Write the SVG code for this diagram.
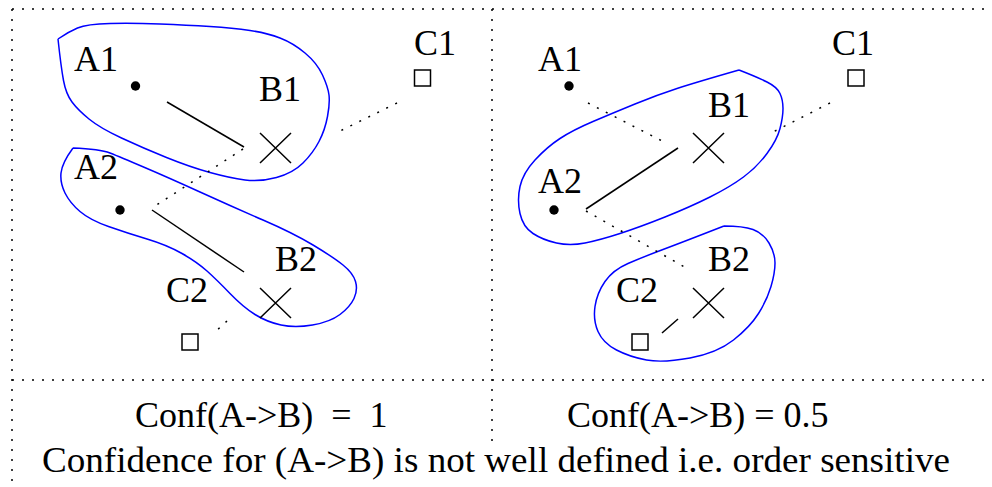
<svg xmlns="http://www.w3.org/2000/svg" width="992" height="487" viewBox="0 0 992 487">
<style>
.frame{fill:none;stroke:#000;stroke-width:1.5;stroke-dasharray:2 8}
.solid{fill:none;stroke:#000;stroke-width:1.5}
.dot{fill:none;stroke:#000;stroke-width:1.5;stroke-dasharray:2 8}
.blob{fill:none;stroke:#0000ff;stroke-width:1.5}
.pt{fill:#000}
.sq{fill:none;stroke:#000;stroke-width:1.5}
.x{fill:none;stroke:#000;stroke-width:1.5}
</style>
<rect width="992" height="487" fill="#fff"/>
<g id="frame">
<path class="frame" d="M12,9 H992 M12,9 V487 M492,9 V447 M12,380 H992"/>
</g>
<g id="clusters">
<path class="blob" d="M58,39 Q68,32 77.5,28 Q87,24 110,23.5 Q133,23 160,24 Q187,25 210,26.5 Q233,28 250,30.5 Q267,33 280,38 Q293,43 305,53 Q317,63 322.5,75 Q328,87 329,95 Q330,103 327.5,116.5 Q325,130 319,141.5 Q313,153 303,163 Q293,173 276.5,177.5 Q260,182 245,180 Q230,178 210,172.5 Q190,167 166.5,157.5 Q143,148 121.5,138 Q100,128 89,119 Q78,110 72,102 Q66,94 63.5,80.5 Q61,67 58,39"/>
<path class="blob" d="M73,148 Q100,149 110,153 Q120,157 143.5,167 Q167,177 200,192 Q233,207 263,220 Q293,233 313,245 Q333,257 343,265 Q353,273 355.5,281.5 Q358,290 354,298.5 Q350,307 340,314.5 Q330,322 312.5,325 Q295,328 281,325 Q267,322 255,314.5 Q243,307 230,293.5 Q217,280 207,271 Q197,262 182,253.5 Q167,245 147,239 Q127,233 108.5,226.5 Q90,220 80,211.5 Q70,203 65,193 Q60,183 61,173 Q62,163 73,148"/>
<path class="blob" d="M739,70 Q757,77 767,82 Q777,87 780,93.5 Q783,100 783,108.5 Q783,117 780,128.5 Q777,140 767,153.5 Q757,167 743.5,177 Q730,187 710,197 Q690,207 665,217 Q640,227 620,233.5 Q600,240 585,243 Q570,246 556.5,243 Q543,240 533,233.5 Q523,227 520,213.5 Q517,200 520,186.5 Q523,173 535,160 Q547,147 560,138.5 Q573,130 593,121.5 Q613,113 635,104 Q657,95 677,88.5 Q697,82 739,70"/>
<path class="blob" d="M724,226 Q743,226 753,229.5 Q763,233 769,243 Q775,253 775,263 Q775,273 771,286.5 Q767,300 758.5,313.5 Q750,327 733.5,340 Q717,353 690,358 Q663,363 646.5,360 Q630,357 616.5,350 Q603,343 598,331.5 Q593,320 595,306.5 Q597,293 605,281.5 Q613,270 628,263.5 Q643,257 663,249.5 Q683,242 724,226"/>
</g>
<g id="connectors">
<line class="solid" x1="167" y1="102" x2="244" y2="147"/>
<line class="dot" x1="243" y1="149" x2="152" y2="208"/>
<line class="dot" x1="397" y1="103" x2="338" y2="132"/>
<line class="solid" x1="152" y1="210" x2="244" y2="272"/>
<line class="dot" x1="227" y1="321" x2="215" y2="332"/>
<line class="dot" x1="588" y1="103" x2="668" y2="144"/>
<line class="dot" x1="830" y1="103" x2="773" y2="132"/>
<line class="solid" x1="586" y1="209" x2="678" y2="148"/>
<line class="dot" x1="586" y1="211" x2="688" y2="269"/>
<line class="solid" x1="662" y1="333" x2="678" y2="319"/>
</g>
<g id="nodes" font-family="Liberation Serif, Times New Roman, serif" font-size="36" fill="#000">
<g id="L-A1"><circle class="pt" cx="135.5" cy="86" r="4.7"/><text x="74" y="71">A1</text></g>
<g id="L-B1"><path class="x" d="M260,133 L291,163 M291,133 L260,163"/><text x="259" y="101">B1</text></g>
<g id="L-C1"><rect class="sq" x="414.5" y="70" width="16" height="16"/><text x="414" y="55">C1</text></g>
<g id="L-A2"><circle class="pt" cx="120" cy="210" r="4.7"/><text x="74" y="179">A2</text></g>
<g id="L-B2"><path class="x" d="M260,288 L291,318 M291,288 L260,318"/><text x="275" y="271">B2</text></g>
<g id="L-C2"><rect class="sq" x="182" y="334" width="16" height="16"/><text x="166" y="302">C2</text></g>
<g id="R-A1"><circle class="pt" cx="569" cy="86" r="4.7"/><text x="538" y="71">A1</text></g>
<g id="R-B1"><path class="x" d="M693,133 L724,163 M724,133 L693,163"/><text x="708" y="117">B1</text></g>
<g id="R-C1"><rect class="sq" x="848" y="70" width="16" height="16"/><text x="832" y="55">C1</text></g>
<g id="R-A2"><circle class="pt" cx="554" cy="210" r="4.7"/><text x="538" y="193">A2</text></g>
<g id="R-B2"><path class="x" d="M693,288 L724,318 M724,288 L693,318"/><text x="708" y="271">B2</text></g>
<g id="R-C2"><rect class="sq" x="632" y="334" width="16" height="16"/><text x="616" y="302">C2</text></g>
</g>
<g id="captions" font-family="Liberation Serif, Times New Roman, serif" font-size="36" fill="#000">
<text x="135" y="427">Conf(A-&gt;B)&#160;&#160;=&#160;&#160;1</text>
<text x="567" y="427">Conf(A-&gt;B) = 0.5</text>
<text x="42" y="472" textLength="908" lengthAdjust="spacingAndGlyphs">Confidence for (A-&gt;B) is not well defined i.e. order sensitive</text>
</g>
</svg>
